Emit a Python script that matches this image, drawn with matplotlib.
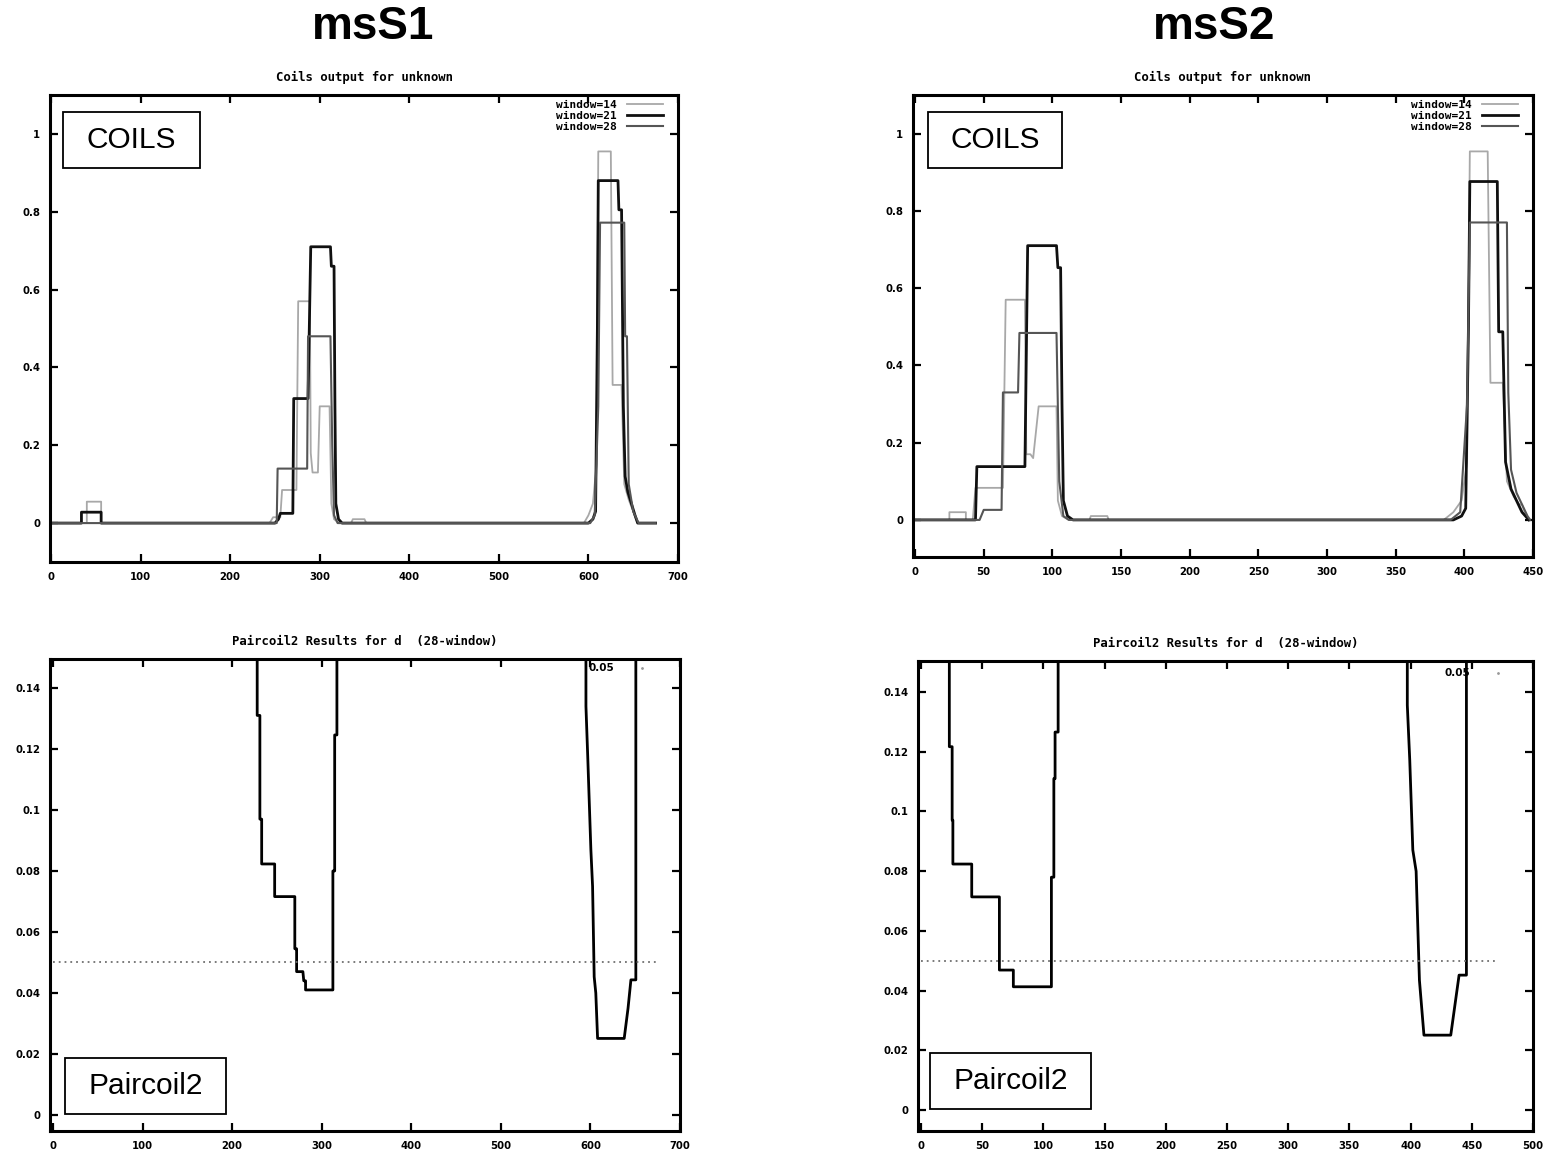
"""Recreate the COILS / Paircoil2 comparison panels for msS1 and msS2."""

import matplotlib
matplotlib.use("Agg")
import matplotlib.pyplot as plt
from matplotlib.font_manager import FontProperties
from matplotlib.patches import Rectangle
from matplotlib.ticker import FuncFormatter, MultipleLocator

# ---- COILS, msS1 (residue, score) ----
s1_w14_x = [0, 40, 40, 56, 56, 244, 248, 256, 258, 274, 276, 289, 290, 292, 298, 300, 311, 313, 316, 322,
            335, 337, 350, 352, 595, 600, 605, 609, 611, 625, 627, 637, 640, 645, 650, 655, 675]
s1_w14_y = [0, 0, 0.055, 0.055, 0, 0, 0.015, 0.015, 0.085, 0.085, 0.57, 0.57, 0.18, 0.13, 0.13, 0.30, 0.30,
            0.05, 0.01, 0, 0, 0.01, 0.01, 0, 0, 0.02, 0.05, 0.15, 0.955, 0.955, 0.355, 0.355, 0.10, 0.06,
            0.03, 0, 0]
s1_w21_x = [0, 34, 34, 56, 56, 250, 254, 256, 270, 271, 287, 290, 312, 313, 316, 317, 318, 321, 325,
            600, 605, 608, 610, 611, 633, 634, 637, 639, 641, 644, 648, 652, 655, 675]
s1_w21_y = [0, 0, 0.028, 0.028, 0, 0, 0.01, 0.025, 0.025, 0.32, 0.32, 0.71, 0.71, 0.66, 0.66, 0.30, 0.05,
            0.01, 0, 0, 0.01, 0.03, 0.50, 0.88, 0.88, 0.805, 0.805, 0.30, 0.12, 0.08, 0.05, 0.02, 0, 0]
s1_w28_x = [0, 252, 253, 286, 287, 312, 314, 316, 320, 602, 607, 611, 613, 640, 641, 643, 645, 650, 656, 675]
s1_w28_y = [0, 0, 0.14, 0.14, 0.48, 0.48, 0.20, 0.02, 0, 0, 0.02, 0.30, 0.772, 0.772, 0.48, 0.48, 0.10,
            0.03, 0, 0]

# ---- COILS, msS2 ----
s2_w14_x = [0, 25, 25, 37, 37, 42, 44, 64, 66, 80, 81, 84, 86, 90, 103, 104, 107, 112, 127, 128, 140, 141,
            385, 392, 398, 402, 404, 417, 419, 428, 431, 436, 440, 442, 445, 447]
s2_w14_y = [0, 0, 0.02, 0.02, 0, 0, 0.083, 0.083, 0.57, 0.57, 0.17, 0.17, 0.16, 0.294, 0.294, 0.05, 0.01,
            0, 0, 0.01, 0.01, 0, 0, 0.02, 0.05, 0.15, 0.954, 0.954, 0.355, 0.355, 0.10, 0.06, 0.04, 0.04,
            0.01, 0]
s2_w21_x = [0, 44, 45, 80, 82, 103, 104, 106, 107, 108, 111, 115, 392, 398, 401, 403, 404, 424, 425, 428,
            430, 434, 438, 442, 447]
s2_w21_y = [0, 0, 0.138, 0.138, 0.71, 0.71, 0.653, 0.653, 0.30, 0.05, 0.01, 0, 0, 0.01, 0.03, 0.50,
            0.876, 0.876, 0.487, 0.487, 0.15, 0.08, 0.05, 0.02, 0]
s2_w28_x = [0, 47, 50, 63, 64, 75, 76, 103, 105, 108, 112, 390, 397, 402, 404, 431, 432, 434, 438, 442,
            446, 448]
s2_w28_y = [0, 0, 0.026, 0.026, 0.33, 0.33, 0.484, 0.484, 0.10, 0.01, 0, 0, 0.02, 0.30, 0.77, 0.77, 0.33,
            0.13, 0.07, 0.04, 0.01, 0]

# ---- Paircoil2 (values above 0.15 run off the top of the frame) ----
s1_pc_x = [0, 228, 228, 231, 231, 233, 233, 247.5, 247.5, 270, 270, 272, 272, 279, 280, 282, 282, 312.5,
           312.5, 314.5, 314.5, 317, 317, 595, 595, 597, 600.5, 602.4, 604.2, 606, 608, 637.7, 642, 645.2,
           650.7, 650.7, 675]
s1_pc_y = [1, 1, 0.131, 0.131, 0.097, 0.097, 0.0823, 0.0823, 0.0716, 0.0716, 0.0545, 0.0545, 0.047,
           0.047, 0.044, 0.044, 0.041, 0.041, 0.080, 0.080, 0.1246, 0.1246, 1, 1, 0.134, 0.1175, 0.087,
           0.075, 0.0453, 0.040, 0.0251, 0.0251, 0.035, 0.0443, 0.0443, 1, 1]
s2_pc_x = [0, 23.1, 23.1, 25.4, 25.4, 26, 26, 41.4, 41.4, 64, 64, 75.4, 75.4, 106.5, 106.5, 108.5, 108.5,
           109.5, 109.5, 112, 112, 397.3, 397.3, 399.3, 401.8, 404.5, 407.2, 410.9, 432.8, 439.6, 445.6,
           445.6, 447]
s2_pc_y = [1, 1, 0.1217, 0.1217, 0.0971, 0.0971, 0.0824, 0.0824, 0.0714, 0.0714, 0.0469, 0.0469, 0.0413,
           0.0413, 0.078, 0.078, 0.111, 0.111, 0.1266, 0.1266, 1, 1, 0.1356, 0.1172, 0.0871, 0.080,
           0.0435, 0.0251, 0.0251, 0.0452, 0.0452, 1, 1]

cutoff = 0.05
s1_cutoff_end = 673
s2_cutoff_end = 470

W, H = 1548, 1152
TICK_FONT = dict(family="DejaVu Sans", weight="bold", size=7.3)
TITLE_FONT = dict(family="DejaVu Sans Mono", weight="bold", size=8.8)

fmt = FuncFormatter(lambda v, pos: "%g" % round(v, 4))


def rect(l, t, r, b):
    """Pixel box (left, top, right, bottom) -> figure fraction rect."""
    return [l / W, 1 - b / H, (r - l) / W, (b - t) / H]


def style_axes(ax, xlim, ylim, xstep, ystep, title):
    ax.set_xlim(*xlim)
    ax.set_ylim(*ylim)
    ax.xaxis.set_major_locator(MultipleLocator(xstep))
    ax.yaxis.set_major_locator(MultipleLocator(ystep))
    ax.xaxis.set_major_formatter(fmt)
    ax.yaxis.set_major_formatter(fmt)
    ax.tick_params(direction="in", length=6, width=1.6, top=True, right=True, pad=7)
    for lab in ax.get_xticklabels() + ax.get_yticklabels():
        lab.set_fontproperties(FontProperties(**TICK_FONT))
    for sp in ax.spines.values():
        sp.set_linewidth(2.2)
    ax.set_title(title, pad=10, fontdict=TITLE_FONT)


def plot_coils(ax, w14, w21, w28, xlim, ylim, xstep, width_px, height_px):
    ax.plot(*w14, color="#a8a8a8", lw=1.3, label="window=14")
    ax.plot(*w21, color="#101010", lw=2.0, label="window=21")
    ax.plot(*w28, color="#555555", lw=1.5, label="window=28")
    style_axes(ax, xlim, ylim, xstep, 0.2, "Coils output for unknown")
    ax.legend(loc="upper right", bbox_to_anchor=(1 - 15 / width_px, 1 - 5 / height_px),
              markerfirst=False, frameon=False,
              prop=dict(family="DejaVu Sans Mono", weight="bold", size=8),
              handlelength=3.2, labelspacing=0.1, handletextpad=1.0,
              borderaxespad=0, borderpad=0)


def plot_paircoil(ax, xs, ys, cut_end, label_x, dot_x, xlim, ylim, xstep):
    ax.plot(xs, ys, color="black", lw=2.0)
    ax.plot([0, cut_end], [cutoff, cutoff], color="#707070", lw=1.3, ls=(0, (1, 2.2)))
    ax.text(label_x, 0.1465, "0.05", ha="center", va="center",
            fontdict=dict(family="DejaVu Sans", weight="bold", size=7.5))
    ax.plot([dot_x], [0.1465], marker=".", ms=2, color="#999999")
    style_axes(ax, xlim, ylim, xstep, 0.02, "Paircoil2 Results for d  (28-window)")


def add_box(fig, l, t, r, b, text):
    fig.add_artist(Rectangle((l / W, 1 - b / H), (r - l) / W, (b - t) / H,
                             transform=fig.transFigure, facecolor="white",
                             edgecolor="black", lw=1.3, zorder=10))
    fig.text((l + r) / 2 / W, 1 - (t + b) / 2 / H, text, ha="center", va="center",
             family="Liberation Sans", size=21.5, zorder=11)


def main():
    fig = plt.figure(figsize=(W / 100, H / 100), dpi=100)

    ax_tl = fig.add_axes(rect(50, 95, 678, 562))
    ax_tr = fig.add_axes(rect(913, 95, 1533, 557))
    ax_bl = fig.add_axes(rect(50, 659, 680, 1131))
    ax_br = fig.add_axes(rect(918, 661, 1533, 1131))

    plot_coils(ax_tl, (s1_w14_x, s1_w14_y), (s1_w21_x, s1_w21_y), (s1_w28_x, s1_w28_y),
               (-1.1, 700), (-0.1, 1.1), 100, 628, 467)
    plot_coils(ax_tr, (s2_w14_x, s2_w14_y), (s2_w21_x, s2_w21_y), (s2_w28_x, s2_w28_y),
               (-1.5, 450), (-0.096, 1.1), 50, 620, 462)
    plot_paircoil(ax_bl, s1_pc_x, s1_pc_y, s1_cutoff_end, 612, 658,
                  (-3.3, 700), (-0.00525, 0.1495), 100)
    plot_paircoil(ax_br, s2_pc_x, s2_pc_y, s2_cutoff_end, 438, 471,
                  (-2.5, 500), (-0.007, 0.1504), 50)

    fig.text(373 / W, 1 - 27 / H, "msS1", ha="center", va="center",
             family="Liberation Sans", weight="bold", size=33)
    fig.text(1214 / W, 1 - 27 / H, "msS2", ha="center", va="center",
             family="Liberation Sans", weight="bold", size=33)

    add_box(fig, 63, 112, 200, 168, "COILS")
    add_box(fig, 928, 112, 1062, 168, "COILS")
    add_box(fig, 65, 1058, 226, 1114, "Paircoil2")
    add_box(fig, 930, 1053, 1091, 1109, "Paircoil2")

    fig.savefig("out.png", dpi=100, facecolor="white")


if __name__ == "__main__":
    main()
